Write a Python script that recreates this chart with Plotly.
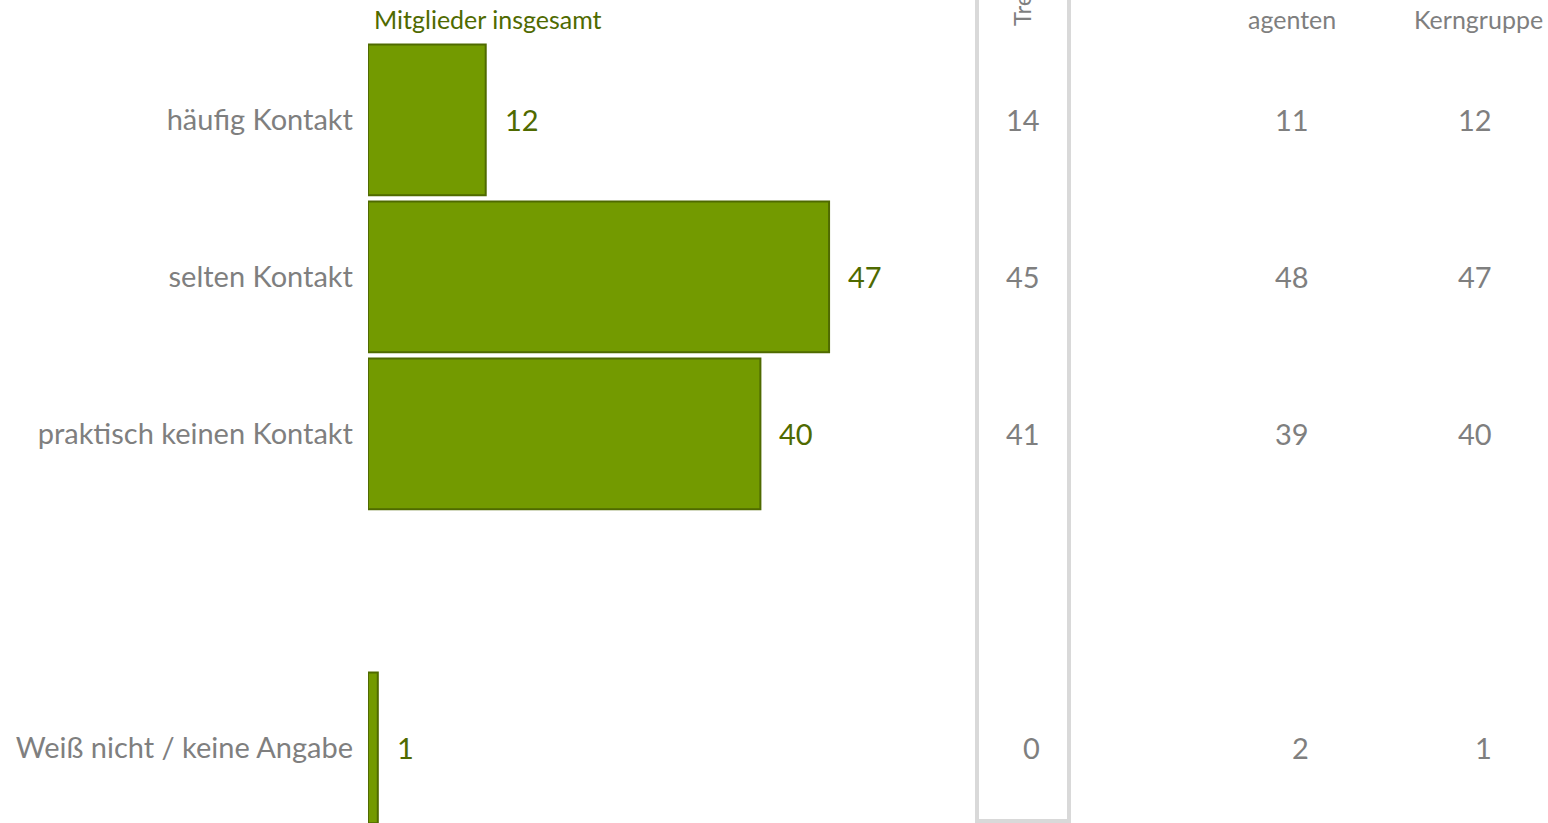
import plotly.graph_objects as go

categories = ["häufig Kontakt", "selten Kontakt", "praktisch keinen Kontakt", " ", "Weiß nicht / keine Angabe"]
members_total = [12, 47, 40, None, 1]
col_tre = [14, 45, 41, None, 0]
col_agenten = [11, 48, 39, None, 2]
col_kern = [12, 47, 40, None, 1]

FONT = "Lato"
GREY = "#7f7f7f"
DARK_GREEN = "#4f6a00"

fig = go.Figure()
fig.add_trace(go.Bar(
    x=members_total, y=categories, orientation="h",
    marker=dict(color="#739a00", line=dict(color=DARK_GREEN, width=2)),
    hoverinfo="skip", showlegend=False,
))

annotations = []
# data labels next to the bars
for cat, v in zip(categories, members_total):
    if v is None:
        continue
    annotations.append(dict(x=v, y=cat, xref="x", yref="y", text=str(v), showarrow=False,
                            xanchor="left", xshift=17, font=dict(family=FONT, size=29, color=DARK_GREEN)))

# side columns (right aligned)
for col, xr in [(col_tre, 0.5708), (col_agenten, 0.7992), (col_kern, 0.9542)]:
    for cat, v in zip(categories, col):
        if v is None:
            continue
        annotations.append(dict(x=xr, y=cat, xref="paper", yref="y", text=str(v), showarrow=False,
                                xanchor="right", font=dict(family=FONT, size=29, color=GREY)))

# headers
annotations += [
    dict(x=0.0034, y=0.977, xref="paper", yref="paper", text="Mitglieder insgesamt", showarrow=False,
         xanchor="left", yanchor="middle", font=dict(family=FONT, size=25, color=DARK_GREEN)),
    dict(x=0.7831, y=0.977, xref="paper", yref="paper", text="agenten", showarrow=False,
         xanchor="center", yanchor="middle", font=dict(family=FONT, size=25, color=GREY)),
    dict(x=0.9415, y=0.977, xref="paper", yref="paper", text="Kerngruppe", showarrow=False,
         xanchor="center", yanchor="middle", font=dict(family=FONT, size=25, color=GREY)),
    dict(x=0.5542, y=0.966, xref="paper", yref="paper", text="Tre", showarrow=False, textangle=-90,
         xanchor="center", yanchor="bottom", font=dict(family=FONT, size=24, color=GREY)),
]

fig.add_shape(type="rect", xref="paper", yref="paper",
              x0=(977 - 368) / 1180, x1=(1069 - 368) / 1180, y0=2 / 823, y1=1.2,
              line=dict(color="#d9d9d9", width=4), fillcolor="rgba(0,0,0,0)")

fig.update_layout(
    width=1548, height=823,
    margin=dict(l=368, r=0, t=0, b=0),
    plot_bgcolor="white", paper_bgcolor="white",
    bargap=0.04,
    annotations=annotations,
    xaxis=dict(range=[0, 1180 / 9.81], visible=False),
    yaxis=dict(categoryorder="array", categoryarray=categories, range=[4.478, -0.764],
               showgrid=False, zeroline=False, showline=False, ticks="",
               ticklabelstandoff=14, tickfont=dict(family=FONT, size=29, color=GREY)),
)

fig.write_html("out.html", config={"displayModeBar": False},
               post_script="document.body.style.margin='0';")
